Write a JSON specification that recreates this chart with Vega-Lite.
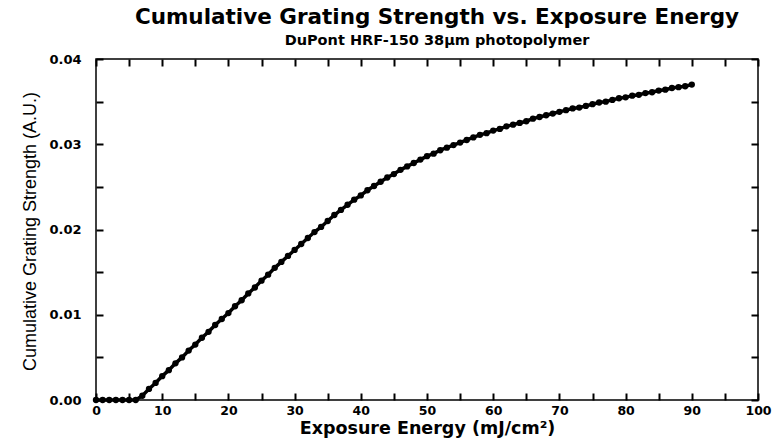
{
  "$schema": "https://vega.github.io/schema/vega-lite/v6.json",
  "width": 662,
  "height": 341,
  "autosize": "none",
  "padding": {"left": 96, "top": 59, "right": 20, "bottom": 43},
  "background": "white",
  "title": {
    "text": "Cumulative Grating Strength vs. Exposure Energy",
    "subtitle": "DuPont HRF-150 38μm photopolymer",
    "anchor": "middle",
    "dx": 10,
    "offset": 6,
    "font": "DejaVu Sans",
    "fontSize": 21.5,
    "fontWeight": "bold",
    "color": "black",
    "subtitleFont": "DejaVu Sans",
    "subtitleFontSize": 14.5,
    "subtitleFontWeight": "bold",
    "subtitleColor": "black",
    "subtitlePadding": 5
  },
  "config": {
    "view": {"stroke": "black", "strokeWidth": 1.5},
    "axis": {
      "grid": false,
      "labelColor": "black",
      "titleColor": "black"
    }
  },
  "data": {
    "values": [
      {"E": 0, "S": 0}, {"E": 1, "S": 0}, {"E": 2, "S": 0}, {"E": 3, "S": 0}, {"E": 4, "S": 0},
      {"E": 5, "S": 0}, {"E": 6, "S": 0}, {"E": 7, "S": 0.0005}, {"E": 8, "S": 0.0013}, {"E": 9, "S": 0.0020},
      {"E": 10, "S": 0.0028}, {"E": 11, "S": 0.0035}, {"E": 12, "S": 0.0043}, {"E": 13, "S": 0.0050}, {"E": 14, "S": 0.0058},
      {"E": 15, "S": 0.0065}, {"E": 16, "S": 0.0073}, {"E": 17, "S": 0.0080}, {"E": 18, "S": 0.0088}, {"E": 19, "S": 0.0095},
      {"E": 20, "S": 0.0102}, {"E": 21, "S": 0.0110}, {"E": 22, "S": 0.0117}, {"E": 23, "S": 0.0125}, {"E": 24, "S": 0.0132},
      {"E": 25, "S": 0.0140}, {"E": 26, "S": 0.0147}, {"E": 27, "S": 0.0155}, {"E": 28, "S": 0.0162}, {"E": 29, "S": 0.0169},
      {"E": 30, "S": 0.0176}, {"E": 31, "S": 0.0183}, {"E": 32, "S": 0.0190}, {"E": 33, "S": 0.0197}, {"E": 34, "S": 0.0203},
      {"E": 35, "S": 0.0210}, {"E": 36, "S": 0.0217}, {"E": 37, "S": 0.0223}, {"E": 38, "S": 0.0229}, {"E": 39, "S": 0.0235},
      {"E": 40, "S": 0.0240}, {"E": 41, "S": 0.0246}, {"E": 42, "S": 0.0251}, {"E": 43, "S": 0.0256}, {"E": 44, "S": 0.0261},
      {"E": 45, "S": 0.0265}, {"E": 46, "S": 0.0270}, {"E": 47, "S": 0.0274}, {"E": 48, "S": 0.0278}, {"E": 49, "S": 0.0282},
      {"E": 50, "S": 0.0286}, {"E": 51, "S": 0.0289}, {"E": 52, "S": 0.0293}, {"E": 53, "S": 0.0296}, {"E": 54, "S": 0.0299},
      {"E": 55, "S": 0.0302}, {"E": 56, "S": 0.0305}, {"E": 57, "S": 0.0308}, {"E": 58, "S": 0.0311}, {"E": 59, "S": 0.0313},
      {"E": 60, "S": 0.0316}, {"E": 61, "S": 0.0318}, {"E": 62, "S": 0.0321}, {"E": 63, "S": 0.0323}, {"E": 64, "S": 0.0325},
      {"E": 65, "S": 0.0327}, {"E": 66, "S": 0.0330}, {"E": 67, "S": 0.0332}, {"E": 68, "S": 0.0334}, {"E": 69, "S": 0.0336},
      {"E": 70, "S": 0.0338}, {"E": 71, "S": 0.0340}, {"E": 72, "S": 0.0342}, {"E": 73, "S": 0.0343}, {"E": 74, "S": 0.0345},
      {"E": 75, "S": 0.0347}, {"E": 76, "S": 0.0349}, {"E": 77, "S": 0.0350}, {"E": 78, "S": 0.0352}, {"E": 79, "S": 0.0354},
      {"E": 80, "S": 0.0355}, {"E": 81, "S": 0.0357}, {"E": 82, "S": 0.0358}, {"E": 83, "S": 0.0360}, {"E": 84, "S": 0.0361},
      {"E": 85, "S": 0.0363}, {"E": 86, "S": 0.0364}, {"E": 87, "S": 0.0366}, {"E": 88, "S": 0.0367}, {"E": 89, "S": 0.0368},
      {"E": 90, "S": 0.0370}
    ]
  },
  "layer": [
    {
      "mark": {"type": "line", "color": "black", "strokeWidth": 3.5},
      "encoding": {
        "x": {
          "field": "E", "type": "quantitative",
          "scale": {"domain": [0, 100], "nice": false},
          "axis": {
            "orient": "bottom",
            "values": [0, 5, 10, 15, 20, 25, 30, 35, 40, 45, 50, 55, 60, 65, 70, 75, 80, 85, 90, 95, 100],
            "labelExpr": "datum.value % 10 == 0 ? datum.label : ''",
            "domain": false,
            "ticks": true,
            "tickColor": "#000000",
            "tickWidth": 2,
            "tickSize": 7,
            "offset": -7,
            "labelPadding": 4,
            "labelFlush": false,
            "labelFont": "DejaVu Sans",
            "labelFontSize": 12.5,
            "labelFontWeight": "bold",
            "title": "Exposure Energy (mJ/cm²)",
            "titleFont": "DejaVu Sans",
            "titleFontSize": 17.5,
            "titleFontWeight": "bold",
            "titlePadding": 3,
            "zindex": 2
          }
        },
        "y": {
          "field": "S", "type": "quantitative",
          "scale": {"domain": [0, 0.04], "nice": false},
          "axis": {
            "orient": "left",
            "values": [0, 0.005, 0.01, 0.015, 0.02, 0.025, 0.03, 0.035, 0.04],
            "labelExpr": "(round(datum.value * 1000) % 10 == 0) ? format(datum.value, '.2f') : ''",
            "domain": false,
            "ticks": true,
            "tickColor": "#000000",
            "tickWidth": 2,
            "tickSize": 7,
            "offset": -7,
            "labelPadding": 15,
            "labelFlush": false,
            "labelFont": "DejaVu Sans",
            "labelFontSize": 13,
            "labelFontWeight": "bold",
            "title": "Cumulative Grating Strength (A.U.)",
            "titleFont": "Liberation Sans",
            "titleFontSize": 18,
            "titleFontWeight": "normal",
            "titleX": -73,
            "titleY": 172,
            "titleAnchor": "middle",
            "titleBaseline": "middle",
            "zindex": 2
          }
        }
      }
    },
    {
      "mark": {"type": "point", "filled": true, "color": "black", "size": 40, "opacity": 1},
      "encoding": {
        "x": {
          "field": "E", "type": "quantitative",
          "axis": {
            "orient": "top",
            "values": [0, 5, 10, 15, 20, 25, 30, 35, 40, 45, 50, 55, 60, 65, 70, 75, 80, 85, 90, 95, 100],
            "domain": false,
            "ticks": true,
            "tickColor": "#000000",
            "tickWidth": 2,
            "tickSize": 7,
            "offset": -7,
            "labels": false,
            "title": null,
            "zindex": 2
          }
        },
        "y": {
          "field": "S", "type": "quantitative",
          "axis": {
            "orient": "right",
            "values": [0, 0.005, 0.01, 0.015, 0.02, 0.025, 0.03, 0.035, 0.04],
            "domain": false,
            "ticks": true,
            "tickColor": "#000000",
            "tickWidth": 2,
            "tickSize": 7,
            "offset": -7,
            "labels": false,
            "title": null,
            "zindex": 2
          }
        }
      }
    }
  ],
  "resolve": {"axis": {"x": "independent", "y": "independent"}}
}
